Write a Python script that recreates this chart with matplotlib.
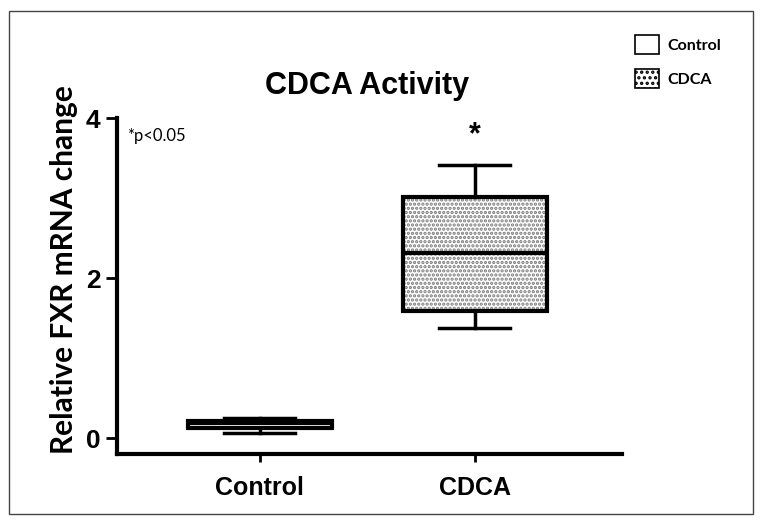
import matplotlib
matplotlib.use("Agg")
import matplotlib.pyplot as plt
from matplotlib.patches import Patch, Rectangle, PathPatch

categories = ["Control", "CDCA"]
q1 = [0.12, 1.59]
med = [0.19, 2.31]
q3 = [0.21, 3.01]
whislo = [0.06, 1.375]
whishi = [0.25, 3.41]
yticks = [0, 2, 4]

plt.rcParams["hatch.linewidth"] = 1.6

fig = plt.figure(figsize=(7.62, 5.25), dpi=100)
ax = fig.add_axes([117/762, 1-454/525, 505/762, 336/525])

stats = [dict(label=c, q1=a, med=m, q3=b, whislo=lo, whishi=hi, fliers=[])
         for c, a, m, b, lo, hi in zip(categories, q1, med, q3, whislo, whishi)]
bp = ax.bxp(stats, positions=[1, 2], widths=0.67, patch_artist=True,
            showfliers=False, capwidths=0.33,
            boxprops=dict(facecolor="white", edgecolor="black", linewidth=3),
            medianprops=dict(color="black", linewidth=3),
            whiskerprops=dict(color="black", linewidth=2.5),
            capprops=dict(color="black", linewidth=2.5))
for b in bp["boxes"]:
    b.set_zorder(3)
# hatched fill for CDCA box
hb = bp["boxes"][1]
hp = PathPatch(hb.get_path(), transform=hb.get_transform(), facecolor="white",
               edgecolor="#7a7a7a", hatch="....", linewidth=0, zorder=3.5)
ax.add_patch(hp)
for ln in bp["medians"] + bp["whiskers"] + bp["caps"]:
    ln.set_zorder(4)
bp["boxes"][1].set_facecolor("none")
bp["boxes"][1].set_zorder(4)

ax.set_xlim(0.335, 2.685)
ax.set_ylim(-0.2, 4)
ax.set_yticks(yticks)
ax.set_yticklabels([str(t) for t in yticks], fontsize=19, fontweight="bold",
                   family="Liberation Sans")
ax.set_xticks([1, 2])
ax.set_xticklabels(categories, fontsize=18, fontweight="bold", family="Liberation Sans")
ax.tick_params(axis="y", length=8, width=2, pad=4)
ax.tick_params(axis="x", length=6, width=2, pad=10)
for s in ["top", "right"]:
    ax.spines[s].set_visible(False)
for s in ["left", "bottom"]:
    ax.spines[s].set_linewidth(3)

ax.set_ylabel("Relative FXR mRNA change", fontsize=21.5, fontweight="bold",
              family="Lato")
ax.yaxis.set_label_coords(-0.077, 0.548)
fig.text(367/762, 1-86/525, "CDCA Activity", fontsize=22, fontweight="bold",
         family="Liberation Sans", ha="center", va="center")
ax.text(0.02, 0.97, "*p<0.05", transform=ax.transAxes, fontsize=12, ha="left", va="top",
        family="Lato")
ax.text(2, 3.6, "*", fontsize=22, fontweight="bold", ha="center", va="bottom",
        family="Liberation Sans")

handles = [Patch(facecolor="white", edgecolor="black", linewidth=1.2),
           Patch(facecolor="white", edgecolor="black", linewidth=1.2, hatch="...")]
fig.legend(handles, categories, loc="upper left", bbox_to_anchor=(627/762, 1-27/525),
           frameon=False, prop=dict(weight="bold", size=11.5, family="Lato"),
           handlelength=1.5, handleheight=1.5, labelspacing=0.9, borderpad=0,
           handletextpad=0.5)

fig.patches.append(Rectangle((9/762, 11/525), 744/762, 503/525, transform=fig.transFigure,
                             fill=False, edgecolor="#444444", linewidth=1))

fig.savefig("out.png", dpi=100)
